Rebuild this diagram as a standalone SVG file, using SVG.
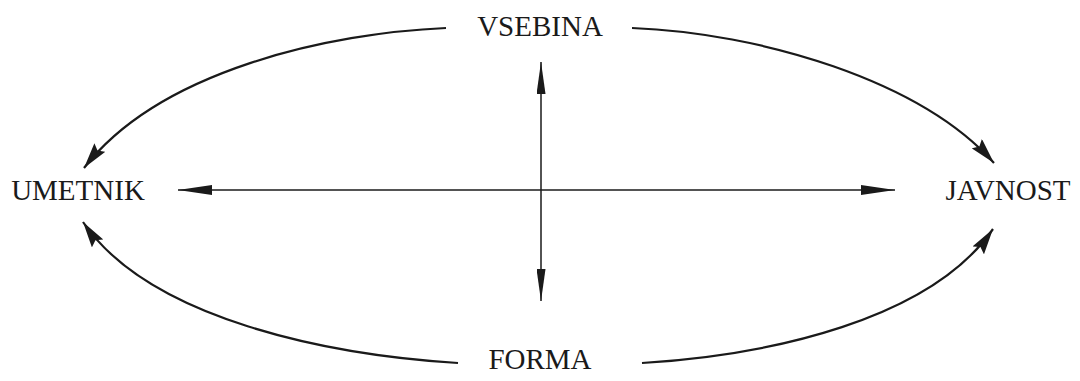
<svg xmlns="http://www.w3.org/2000/svg" width="1080" height="381" viewBox="0 0 1080 381">
<style>
text{font-family:"Liberation Serif","Times New Roman",serif;font-size:29px;fill:#1a1a1a;text-anchor:middle}
.c{fill:none;stroke:#1a1a1a;stroke-width:2.2}
.a{fill:none;stroke:#1a1a1a;stroke-width:1.5}
</style>
<defs>
<marker id="big" viewBox="0 0 26 14" refX="26" refY="7" markerWidth="26" markerHeight="14" markerUnits="userSpaceOnUse" orient="auto"><path d="M0,0 L26,7 L0,14 L4,7 Z" fill="#1a1a1a"/></marker>
<marker id="h" viewBox="0 0 34 10" refX="34" refY="5" markerWidth="34" markerHeight="10" markerUnits="userSpaceOnUse" orient="auto-start-reverse"><path d="M0,0 L34,5 L0,10 Z" fill="#1a1a1a"/></marker>
<marker id="v" viewBox="0 0 32 9" refX="32" refY="4.5" markerWidth="32" markerHeight="9" markerUnits="userSpaceOnUse" orient="auto-start-reverse"><path d="M0,0 L32,4.5 L0,9 Z" fill="#1a1a1a"/></marker>
</defs>
<g id="node-vsebina"><text x="540" y="36">VSEBINA</text></g>
<g id="node-umetnik"><text x="78" y="200">UMETNIK</text></g>
<g id="node-javnost"><text x="1008" y="200">JAVNOST</text></g>
<g id="node-forma"><text x="540" y="369">FORMA</text></g>
<g id="connectors">
<path class="c" d="M446,28 C330,33 160,70 84,168" marker-end="url(#big)"/>
<path class="c" d="M632,28 C760,33 920,80 994,163" marker-end="url(#big)"/>
<path class="c" d="M458,363 C330,355 150,320 83,222" marker-end="url(#big)"/>
<path class="c" d="M642,363 C770,355 930,320 993,229" marker-end="url(#big)"/>
<line class="a" x1="178" y1="190" x2="895" y2="190" marker-start="url(#h)" marker-end="url(#h)"/>
<line class="a" x1="541" y1="62" x2="541" y2="301" marker-start="url(#v)" marker-end="url(#v)"/>
</g>
</svg>
